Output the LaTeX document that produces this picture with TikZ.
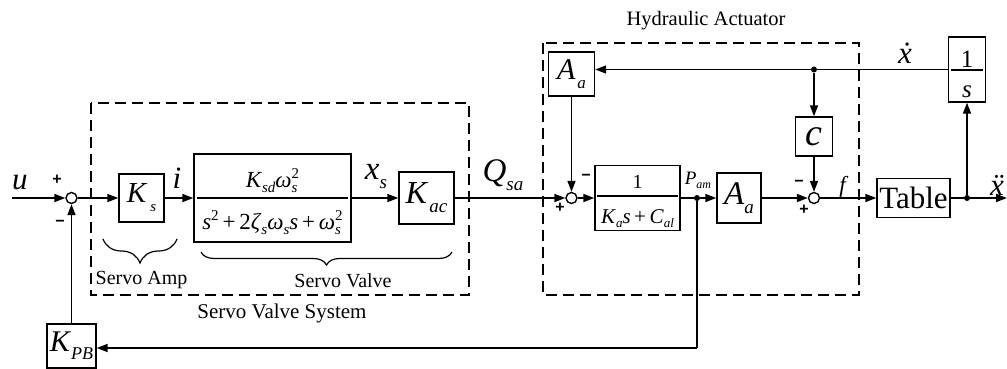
\documentclass[tikz,border=0pt]{standalone}
\usepackage{fontspec}
\setmainfont{Liberation Serif}
\newfontfamily\sansf{Liberation Sans}
\usetikzlibrary{arrows.meta,decorations.pathreplacing,calc}
\newcommand{\lowr}[3]{\raisebox{#1}{\fontsize{#2}{#2}\selectfont\itshape #3}}
\newcommand{\fs}[1]{\fontsize{#1}{#1}\selectfont}
\begin{document}
\begin{tikzpicture}[x=1pt,y=-1pt,
  box/.style={draw,line width=1.4pt,inner sep=0pt},
  sumc/.style={circle,draw,line width=1.4pt,minimum size=11pt,inner sep=0pt},
  dotn/.style={circle,fill,minimum size=6pt,inner sep=0pt},
  sig/.style={line width=1.6pt,-{Triangle[length=11pt,width=8pt]}},
  wire/.style={line width=1.6pt},
  dbox/.style={line width=1.4pt,dash pattern=on 11pt off 6pt},
  fracl/.style={line width=1.2pt},
  lbl/.style={inner sep=0pt},
  sgn/.style={inner sep=0pt,font=\sansf\bfseries\fs{16}},
  brc/.style={line width=1.2pt,decorate}]
\fill[white] (0,0) rectangle (1007,369);
\useasboundingbox (0,0) rectangle (1007,369);

% dashed boxes
\draw[dbox] (91,103) rectangle (469,295);
\draw[dbox] (543,43) rectangle (859,295);

% blocks
\node[sumc] (s1) at (71.5,198) {};
\node[box,minimum width=45pt,minimum height=48pt] (ks) at (141.5,198) {\fs{29}\textit{K}\kern3pt\lowr{-9pt}{15}{s}};
\node[box,minimum width=157pt,minimum height=88pt] (sv) at (272.5,198) {};
\node[box,minimum width=55pt,minimum height=52pt] (kac) at (426.5,198) {\fs{32}\textit{K}\kern1pt\lowr{-9pt}{19}{ac}};
\node[sumc] (s2) at (571.5,198) {};
\node[box,minimum width=85pt,minimum height=65pt] (ga) at (637.5,198) {};
\node[dotn] (pj) at (697,198) {};
\node[box,minimum width=44pt,minimum height=50pt] (aa2) at (739,198) {\fs{33}\textit{A}\lowr{-9pt}{19}{a}};
\node[sumc] (s3) at (814,198) {};
\node[box,minimum width=37pt,minimum height=39pt] (cc) at (814,136.5) {\fs{38}\textit{c}};
\node[box,minimum width=73pt,minimum height=39pt] (tb) at (913.5,198) {\fs{31}Table};
\node[dotn] (oj) at (967,198) {};
\node[box,minimum width=37pt,minimum height=65pt] (is) at (967,69.5) {};
\node[dotn] (tj) at (814,69.5) {};
\node[box,minimum width=46pt,minimum height=44pt] (aa1) at (571.5,74) {\fs{30}\textit{A}\kern2pt\lowr{-9pt}{17}{a}};
\node[box,minimum width=49pt,minimum height=44pt] (kpb) at (71.5,346) {\fs{30}\textit{K}\lowr{-8pt}{18}{PB}};

% fractions
\draw[fracl] ($(sv.west)+(4,0)$) -- ($(sv.east)+(-4,0)$);
\node[lbl,anchor=base] (svn) at (272.5,187) {\fs{23}\textit{K}\lowr{-5pt}{15}{sd}\textit{ω}\rlap{\lowr{-5pt}{15}{s}}\lowr{9pt}{15}{\upshape 2}};
\node[lbl,anchor=base] (svd) at (272.5,229) {\fs{23}\textit{s}\lowr{9pt}{15}{\upshape 2}\,+\,2\textit{ζ}\lowr{-5pt}{15}{s}\textit{ω}\lowr{-5pt}{15}{s}\textit{s}\,+\,\textit{ω}\rlap{\lowr{-5pt}{15}{s}}\lowr{9pt}{15}{\upshape 2}};
\draw[fracl] ($(ga.west)+(3,-2)$) -- ($(ga.east)+(-3,-2)$);
\node[lbl,anchor=base] (gan) at (637.5,188) {\fs{20}1};
\node[lbl,anchor=base] (gad) at (637.5,223) {\fs{21}\textit{K}\lowr{-4pt}{13}{a}\textit{s}\,+\,\textit{C}\lowr{-4pt}{13}{al}};
\draw[fracl] ($(is.west)+(3,0.5)$) -- ($(is.east)+(-3,0.5)$);
\node[lbl,anchor=base] (isn) at (967,67) {\fs{25}1};
\node[lbl,anchor=base] (isd) at (967,97) {\fs{25}\textit{s}};

% connectors
\coordinate (in) at (12,198);
\coordinate (out) at (1007,198);
\coordinate (fb) at (697,348);
\draw[sig] (in) -- (s1);
\draw[sig] (s1) -- (ks);
\draw[sig] (ks) -- (sv);
\draw[sig] (sv) -- (kac);
\draw[sig] (kac) -- (s2);
\draw[sig] (s2) -- (ga);
\draw[wire] (ga) -- (pj);
\draw[sig] (pj) -- (aa2);
\draw[sig] (aa2) -- (s3);
\draw[sig] (s3) -- (tb);
\draw[wire] (tb) -- (oj);
\draw[sig] (oj) -- (out);
\draw[sig] (oj) -- (is);
\draw[wire] (is.west) -- (tj);
\draw[sig] (tj) -- (tj -| aa1.east);
\draw[sig] (tj) -- (cc);
\draw[sig] (cc) -- (s3);
\draw[sig] (aa1) -- (s2);
\draw[wire] (pj) -- (fb);
\draw[sig] (fb) -- (fb -| kpb.east);
\draw[sig] (kpb) -- (s1);

% signal labels
\node[lbl] (lu) at (20,183) {\fs{31}\textit{u}};
\node[sgn] (p1) at (57,180) {+};
\node[sgn] (m1) at (60,223) {−};
\node[lbl] (li) at (177,178) {\fs{31}\textit{i}};
\node[lbl] (lxs) at (376,177) {\fs{33}\textit{x}\lowr{-9pt}{19}{s}};
\node[lbl] (lq) at (503,175) {\fs{33}\textit{Q}\lowr{-9pt}{19}{sa}};
\node[sgn] (m2) at (586,177) {−};
\node[sgn] (p2) at (560,208) {+};
\node[lbl] (lp) at (698,180) {\fs{19}\textit{P}\lowr{-4pt}{12}{am}};
\node[sgn] (m3) at (799,183) {−};
\node[sgn] (p3) at (804,210) {+};
\node[lbl] (lf) at (844,187) {\fs{23}\textit{f}};
\node[lbl] (lxd) at (905,53) {\fs{31}\textit{\.{x}}};
\node[lbl] (lxdd) at (997,185) {\fs{31}\textit{\"{x}}};

% braces and captions
\draw[brc,decoration={brace,mirror,amplitude=24pt}] (103,239) -- (177,239);
\draw[brc,decoration={brace,mirror,amplitude=13pt}] (201,252) -- (452,252);
\node[lbl,anchor=base] (tamp) at (141.5,284) {\fs{20}Servo Amp};
\node[lbl,anchor=base] (tval) at (343,287) {\fs{20}Servo Valve};
\node[lbl,anchor=base] (tsys) at (282,318) {\fs{21}Servo Valve System};
\node[lbl,anchor=base] (thyd) at (706,26) {\fs{20.5}Hydraulic Actuator};
\end{tikzpicture}
\end{document}
